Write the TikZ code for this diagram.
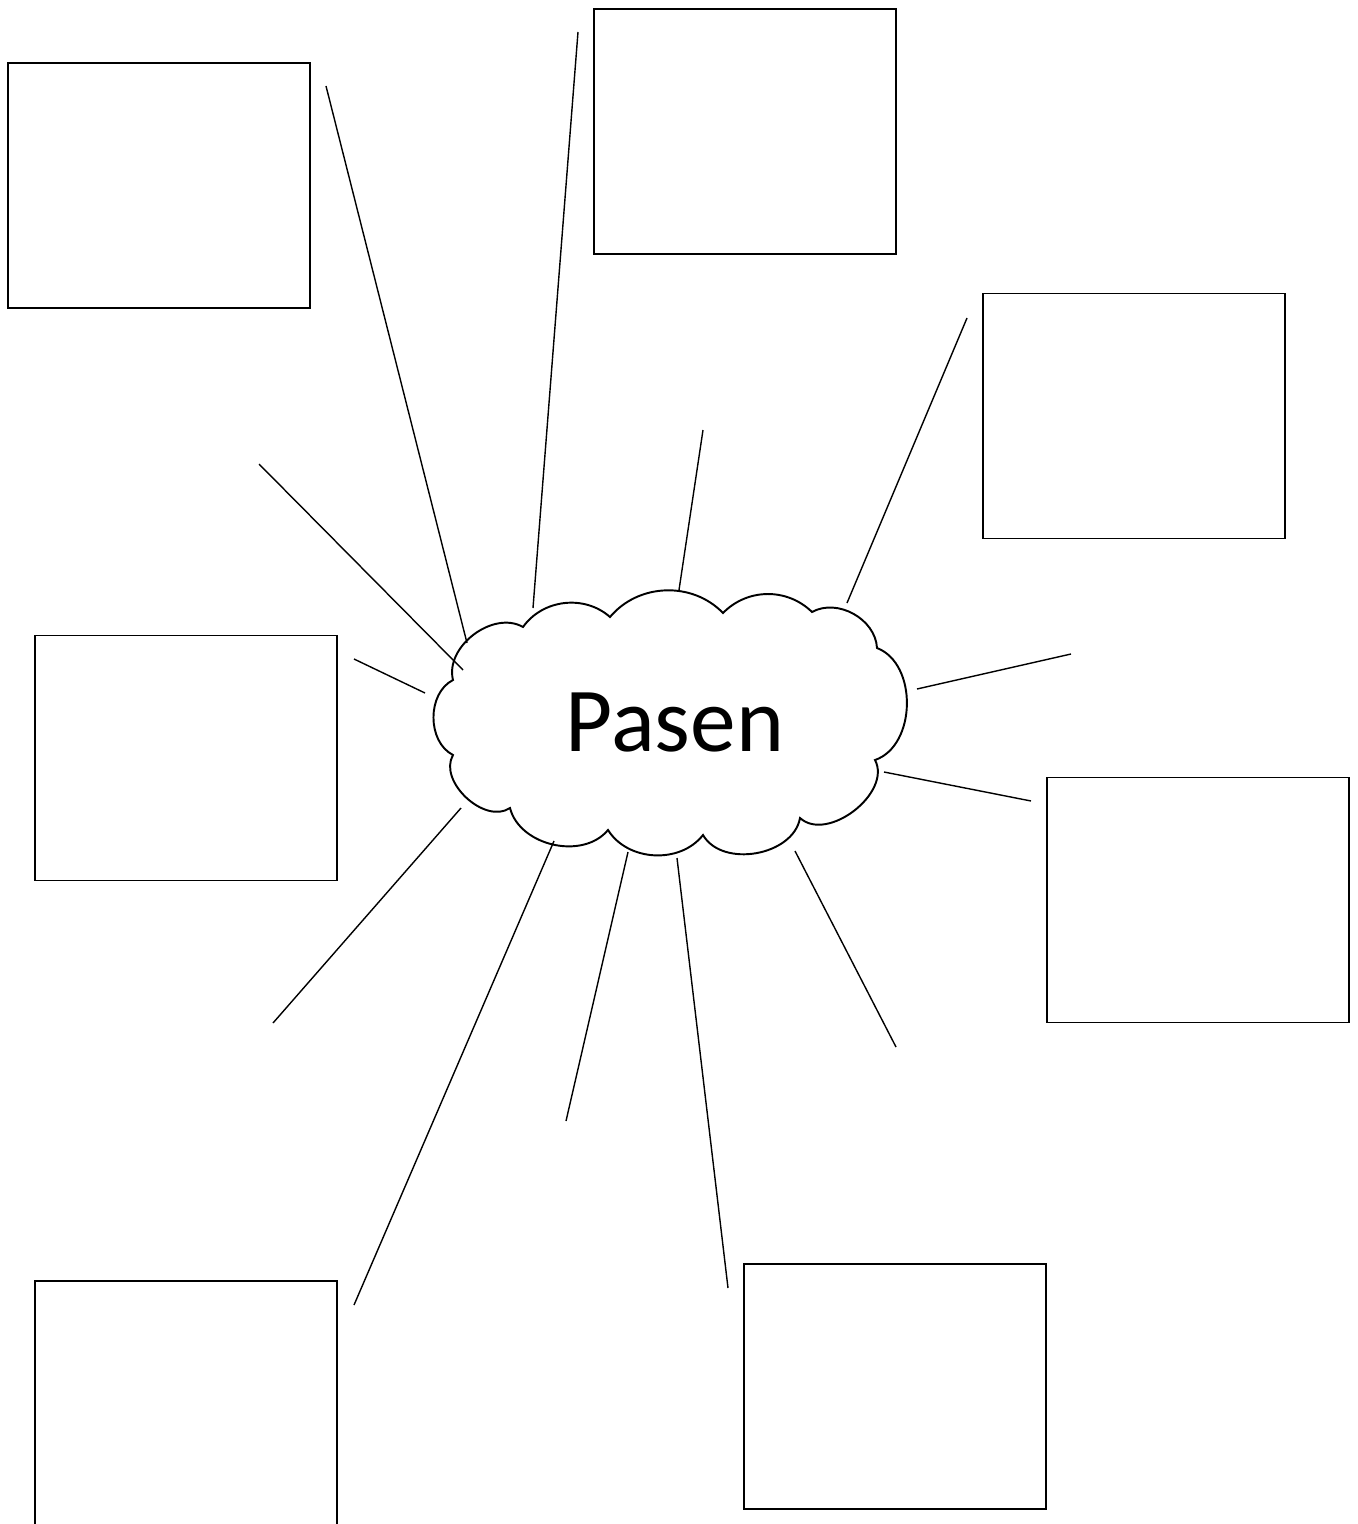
\documentclass[tikz,border=0pt]{standalone}
\usepackage{fontspec}
\setmainfont{Carlito}
\tikzstyle{box}=[draw,line width=1.1pt,minimum width=6.04cm,minimum height=4.9cm,inner sep=0pt]
\tikzstyle{spoke}=[line width=0.8pt]

\begin{document}
\begin{tikzpicture}[x=0.02cm,y=-0.02cm]
\clip (0,0) rectangle (1357,1524);

%boxes
\node[box] (topleft) at (159,185.5) {};
\node[box] (topmid) at (745,131.5) {};
\node[box] (rightup) at (1134,416) {};
\node[box] (leftmid) at (186,758) {};
\node[box] (rightlow) at (1198,900) {};
\node[box] (botmid) at (895,1386.5) {};
\node[box,minimum height=5.6cm] (botleft) at (186,1421) {};

%cloud
\draw[line width=1.1pt,fill=white] (523,627) to[bend left=48] (610,617)
  to[bend left=48] (723,613) to[bend left=45] (812,612)
  to[bend left=58] (877,648) to[bend left=70] (875,760)
  to[bend left=80] (800,818) to[bend left=70] (703,835)
  to[bend left=55] (608,830) to[bend left=63] (510,808)
  to[bend left=77] (453,755) to[bend left=63] (453,680)
  to[bend left=67] cycle;
\node[inner sep=0pt,font=\fontsize{52}{60}\selectfont] (pasen) at (675,723) {Pasen};

%spoke ends
\coordinate (a1) at (467,643); \coordinate (a2) at (326,86);
\coordinate (b1) at (533,608); \coordinate (b2) at (578,32);
\coordinate (c1) at (679,590); \coordinate (c2) at (703,430);
\coordinate (d1) at (847,603); \coordinate (d2) at (967,318);
\coordinate (e1) at (463,670); \coordinate (e2) at (259,464);
\coordinate (f1) at (425,693); \coordinate (f2) at (354,659);
\coordinate (g1) at (917,689); \coordinate (g2) at (1071,654);
\coordinate (h1) at (884,772); \coordinate (h2) at (1031,801);
\coordinate (i1) at (461,808); \coordinate (i2) at (273,1023);
\coordinate (j1) at (554,841); \coordinate (j2) at (354,1305);
\coordinate (k1) at (628,852); \coordinate (k2) at (566,1121);
\coordinate (l1) at (677,858); \coordinate (l2) at (728,1288);
\coordinate (m1) at (795,851); \coordinate (m2) at (896,1047);

%spokes
\foreach \s in {a,b,c,d,e,f,g,h,i,j,k,l,m}
  \draw[spoke] (\s1) -- (\s2);

\end{tikzpicture}
\end{document}
